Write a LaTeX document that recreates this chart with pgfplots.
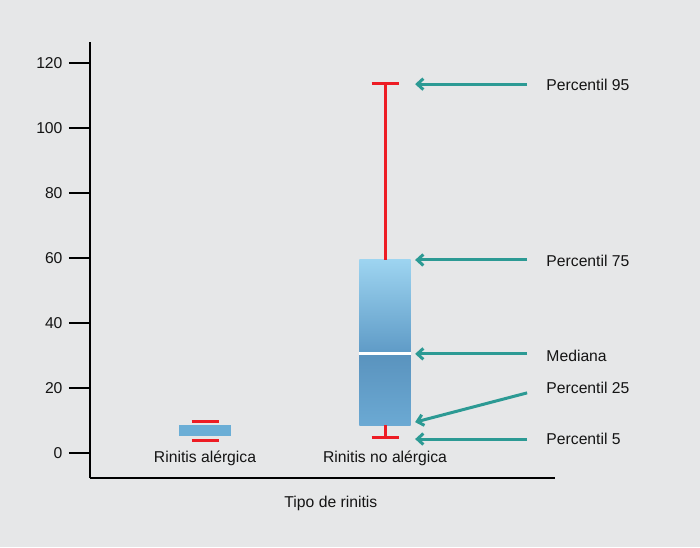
\documentclass[border=0pt]{standalone}
\usepackage{pgfplots}
\pgfplotsset{compat=1.18}
\usetikzlibrary{arrows.meta}
\usepackage{fontspec}
\setmainfont{Liberation Sans}

\definecolor{bgc}{HTML}{E6E7E8}
\definecolor{whisk}{HTML}{ED1C24}
\definecolor{arrowc}{HTML}{2C9A94}
\definecolor{txt}{HTML}{141414}
\definecolor{boxone}{HTML}{6BAED6}
\definecolor{lowb}{HTML}{6BA9D3}
\definecolor{lowt}{HTML}{5A93BE}
\definecolor{upb}{HTML}{5E9AC6}
\definecolor{upt}{HTML}{9DD4F0}

\newcommand{\lbl}{\fontsize{15.7}{18}\selectfont}

\begin{document}
\begin{tikzpicture}
\useasboundingbox[fill=bgc] (-90pt,-69pt) rectangle (610pt,478pt);
\begin{axis}[
    scale only axis,
    width=465pt, height=436pt,
    xmin=0.361, xmax=2.944,
    ymin=-7.69, ymax=126.46,
    axis x line*=bottom, axis y line*=left,
    axis line style={line width=2.5pt, black},
    ytick={0,20,...,120},
    tick align=outside,
    major tick length=21pt,
    y tick style={line width=1.8pt, black},
    yticklabel style={xshift=-3pt},
    xtick={1,2},
    xticklabels={Rinitis alérgica, Rinitis no alérgica},
    x tick style={draw=none},
    xticklabel style={yshift=52pt},
    tick label style={font=\lbl, text=txt},
    /pgf/number format/assume math mode=true,
    xlabel={Tipo de rinitis},
    xlabel style={at={(axis description cs:0.518,-0.058)}, anchor=center, font=\lbl, text=txt},
    clip=false,
]
% box halves of "Rinitis no alergica" (P25 8.6 / median 30.5 / P75 59.4)
\addplot[draw=none, top color=lowt, bottom color=lowb]
  coordinates {(1.858,8.6) (2.142,8.6) (2.142,30.5) (1.858,30.5)} -- cycle;
\addplot[draw=none, top color=upt, bottom color=upb]
  coordinates {(1.858,30.5) (2.142,30.5) (2.142,59.4) (1.858,59.4)} -- cycle;
% box of "Rinitis alergica" (5.2 / 8.6)
\addplot[draw=none, fill=boxone]
  coordinates {(0.855,5.2) (1.145,5.2) (1.145,8.6) (0.855,8.6)} -- cycle;

% whiskers: P5 and P95
\addplot[whisk, line width=3pt] coordinates {(0.925,4.0) (1.075,4.0)};
\addplot[whisk, line width=3pt] coordinates {(0.925,9.6) (1.075,9.6)};
\addplot[whisk, line width=3pt] coordinates {(1.925,4.9) (2.075,4.9)};
\addplot[whisk, line width=3pt] coordinates {(2,4.9) (2,8.6)};
\addplot[whisk, line width=3pt] coordinates {(2,59.4) (2,113.8)};
\addplot[whisk, line width=3pt] coordinates {(1.925,113.8) (2.075,113.8)};
% median
\addplot[white, line width=2.8pt] coordinates {(1.858,30.5) (2.142,30.5)};

% annotations
\begin{scope}[arrowc, line width=3pt, -{Straight Barb[length=6pt,width=11pt]}]
\draw (axis cs:2.789,113.5) -- (axis cs:2.167,113.5);
\draw (axis cs:2.789,59.4) -- (axis cs:2.167,59.4);
\draw (axis cs:2.789,30.5) -- (axis cs:2.167,30.5);
\draw (axis cs:2.789,18.5) -- (axis cs:2.167,9.5);
\draw (axis cs:2.789,4.3) -- (axis cs:2.167,4.3);
\end{scope}
\begin{scope}[every node/.style={anchor=west, font=\lbl, text=txt}]
\node at (axis cs:2.877,113.3) {Percentil 95};
\node at (axis cs:2.877,59.1) {Percentil 75};
\node at (axis cs:2.877,29.8) {Mediana};
\node at (axis cs:2.877,20.0) {Percentil 25};
\node at (axis cs:2.877,4.3) {Percentil 5};
\end{scope}
\end{axis}
\end{tikzpicture}
\end{document}
